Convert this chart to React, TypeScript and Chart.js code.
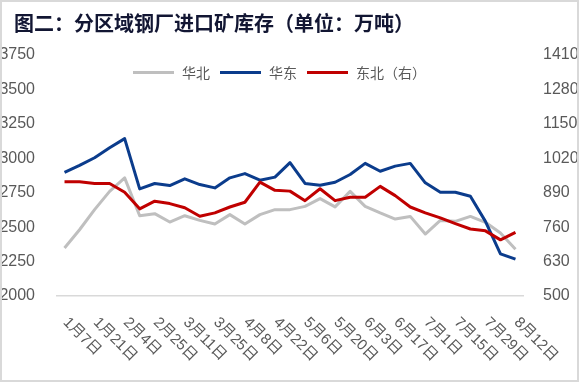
import React, { useEffect, useRef } from "react";
import { Chart, registerables } from "chart.js";

Chart.register(...registerables);

const categories = [
  "1月7日", "1月14日", "1月21日", "1月28日", "2月4日", "2月18日", "2月25日", "3月4日",
  "3月11日", "3月18日", "3月25日", "4月1日", "4月8日", "4月15日", "4月22日", "4月29日",
  "5月6日", "5月13日", "5月20日", "5月27日", "6月3日", "6月10日", "6月17日", "6月24日",
  "7月1日", "7月8日", "7月15日", "7月22日", "7月29日", "8月5日", "8月12日",
];

// 华北 (left axis)
const huabei = [
  2348, 2481, 2627, 2760, 2858, 2583, 2598, 2537, 2583, 2549, 2523, 2591, 2523, 2591, 2627, 2627,
  2651, 2707, 2647, 2760, 2651, 2603, 2559, 2578, 2450, 2549, 2542, 2578, 2535, 2457, 2340,
];

// 华东 (left axis)
const huadong = [
  2897, 2948, 3004, 3077, 3143, 2778, 2817, 2802, 2851, 2809, 2785, 2858, 2889, 2841, 2863, 2968,
  2817, 2804, 2826, 2882, 2963, 2906, 2943, 2963, 2822, 2753, 2753, 2724, 2542, 2306, 2268,
];

// 东北 (right axis)
const dongbei = [
  931, 931, 925, 925, 892, 829, 858, 849, 833, 801, 814, 836, 854, 930, 899, 896,
  860, 905, 860, 873, 873, 914, 879, 836, 814, 795, 773, 753, 746, 712, 740,
];

const leftAxis = { min: 2000, max: 3750, step: 250 };
const rightAxis = { min: 500, max: 1410, step: 130 };

const seriesNames = ["华北", "华东", "东北（右）"];
const seriesColors = ["#BFBFBF", "#0B3C8C", "#C00000"];

const W = 579;
const H = 382;
const AREA = { left: 57, right: 523, top: 55, bottom: 296 };
const TEXT = "#595959";
const NUM_FONT = "'Liberation Sans', Arial, 'Noto Sans CJK SC', sans-serif";

export default function App() {
  const ref = useRef<HTMLCanvasElement>(null);

  useEffect(() => {
    if (!ref.current) return;
    const xLabelPlugin = {
      id: "xLabels",
      afterDraw(chart: any) {
        const ctx = chart.ctx;
        const xs = chart.scales.x;
        ctx.save();
        ctx.fillStyle = TEXT;
        ctx.font = `15px ${NUM_FONT}`;
        ctx.textAlign = "left";
        ctx.textBaseline = "middle";
        categories.forEach((c, i) => {
          if (i % 2 !== 0) return;
          const x = xs.getPixelForValue(i);
          ctx.save();
          ctx.translate(x + 1, chart.chartArea.bottom + 24);
          ctx.rotate(Math.PI / 4);
          ctx.fillText(c, 0, 0);
          ctx.restore();
        });
        ctx.restore();
      },
    };

    const chart = new Chart(ref.current, {
      type: "line",
      data: {
        labels: categories,
        datasets: [
          {
            label: seriesNames[0],
            data: huabei,
            borderColor: seriesColors[0],
            backgroundColor: seriesColors[0],
            yAxisID: "y",
            order: 3,
          },
          {
            label: seriesNames[1],
            data: huadong,
            borderColor: seriesColors[1],
            backgroundColor: seriesColors[1],
            yAxisID: "y",
            order: 2,
          },
          {
            label: seriesNames[2],
            data: dongbei,
            borderColor: seriesColors[2],
            backgroundColor: seriesColors[2],
            yAxisID: "y1",
            order: 1,
          },
        ].map((d) => ({
          ...d,
          borderWidth: 3,
          pointRadius: 0,
          tension: 0,
          fill: false,
          borderJoinStyle: "round" as const,
        })),
      },
      options: {
        responsive: false,
        animation: false,
        devicePixelRatio: 1,
        layout: { padding: { top: AREA.top, left: 0, right: 0, bottom: 0 } },
        plugins: {
          legend: { display: false },
          tooltip: { enabled: false },
          title: { display: false },
        },
        scales: {
          x: {
            type: "category",
            offset: true,
            grid: { display: false },
            border: { display: true, color: "#D9D9D9", width: 1.5 },
            ticks: { display: false },
            afterFit: (s: any) => {
              s.height = H - AREA.bottom;
            },
          },
          y: {
            position: "left",
            min: leftAxis.min,
            max: leftAxis.max,
            grid: { display: false },
            border: { display: false },
            ticks: {
              stepSize: leftAxis.step,
              padding: 14,
              color: TEXT,
              font: { family: NUM_FONT, size: 16 },
              callback: (v: any) => String(v),
            },
            afterFit: (s: any) => {
              s.width = AREA.left;
            },
          },
          y1: {
            position: "right",
            min: rightAxis.min,
            max: rightAxis.max,
            grid: { display: false },
            border: { display: false },
            ticks: {
              stepSize: rightAxis.step,
              padding: 12,
              color: TEXT,
              font: { family: NUM_FONT, size: 16 },
              callback: (v: any) => String(v),
            },
            afterFit: (s: any) => {
              s.width = W - AREA.right;
            },
          },
        },
      },
      plugins: [xLabelPlugin],
    });
    return () => chart.destroy();
  }, []);

  return (
    <div
      style={{
        position: "fixed",
        left: 0,
        top: 0,
        width: W,
        height: H,
        background: "#fff",
        overflow: "hidden",
      }}
    >
      <canvas
        ref={ref}
        width={W}
        height={H}
        style={{ position: "absolute", left: 0, top: 0, width: W, height: H }}
      />
      <div
        style={{
          position: "absolute",
          left: 14,
          top: 12,
          fontFamily: "'Noto Sans CJK SC', sans-serif",
          fontWeight: 700,
          fontSize: 20,
          lineHeight: "22px",
          color: "#121633",
          whiteSpace: "nowrap",
        }}
      >
        图二：分区域钢厂进口矿库存（单位：万吨）
      </div>
      <div
        style={{
          position: "absolute",
          left: 133,
          top: 62,
          height: 20,
          display: "flex",
          alignItems: "center",
          fontFamily: "'Noto Sans CJK SC', sans-serif",
          fontSize: 14,
          color: TEXT,
          whiteSpace: "nowrap",
        }}
      >
        {seriesNames.map((n, i) => (
          <div key={n} style={{ display: "flex", alignItems: "center", marginRight: 10 }}>
            <div style={{ width: 41, height: 3, background: seriesColors[i], marginRight: 8 }} />
            <span>{n}</span>
          </div>
        ))}
      </div>
      <div
        style={{
          position: "absolute",
          left: 0,
          top: 0,
          width: W,
          height: H,
          boxSizing: "border-box",
          border: "2px solid #D9D9D9",
          pointerEvents: "none",
        }}
      />
    </div>
  );
}
